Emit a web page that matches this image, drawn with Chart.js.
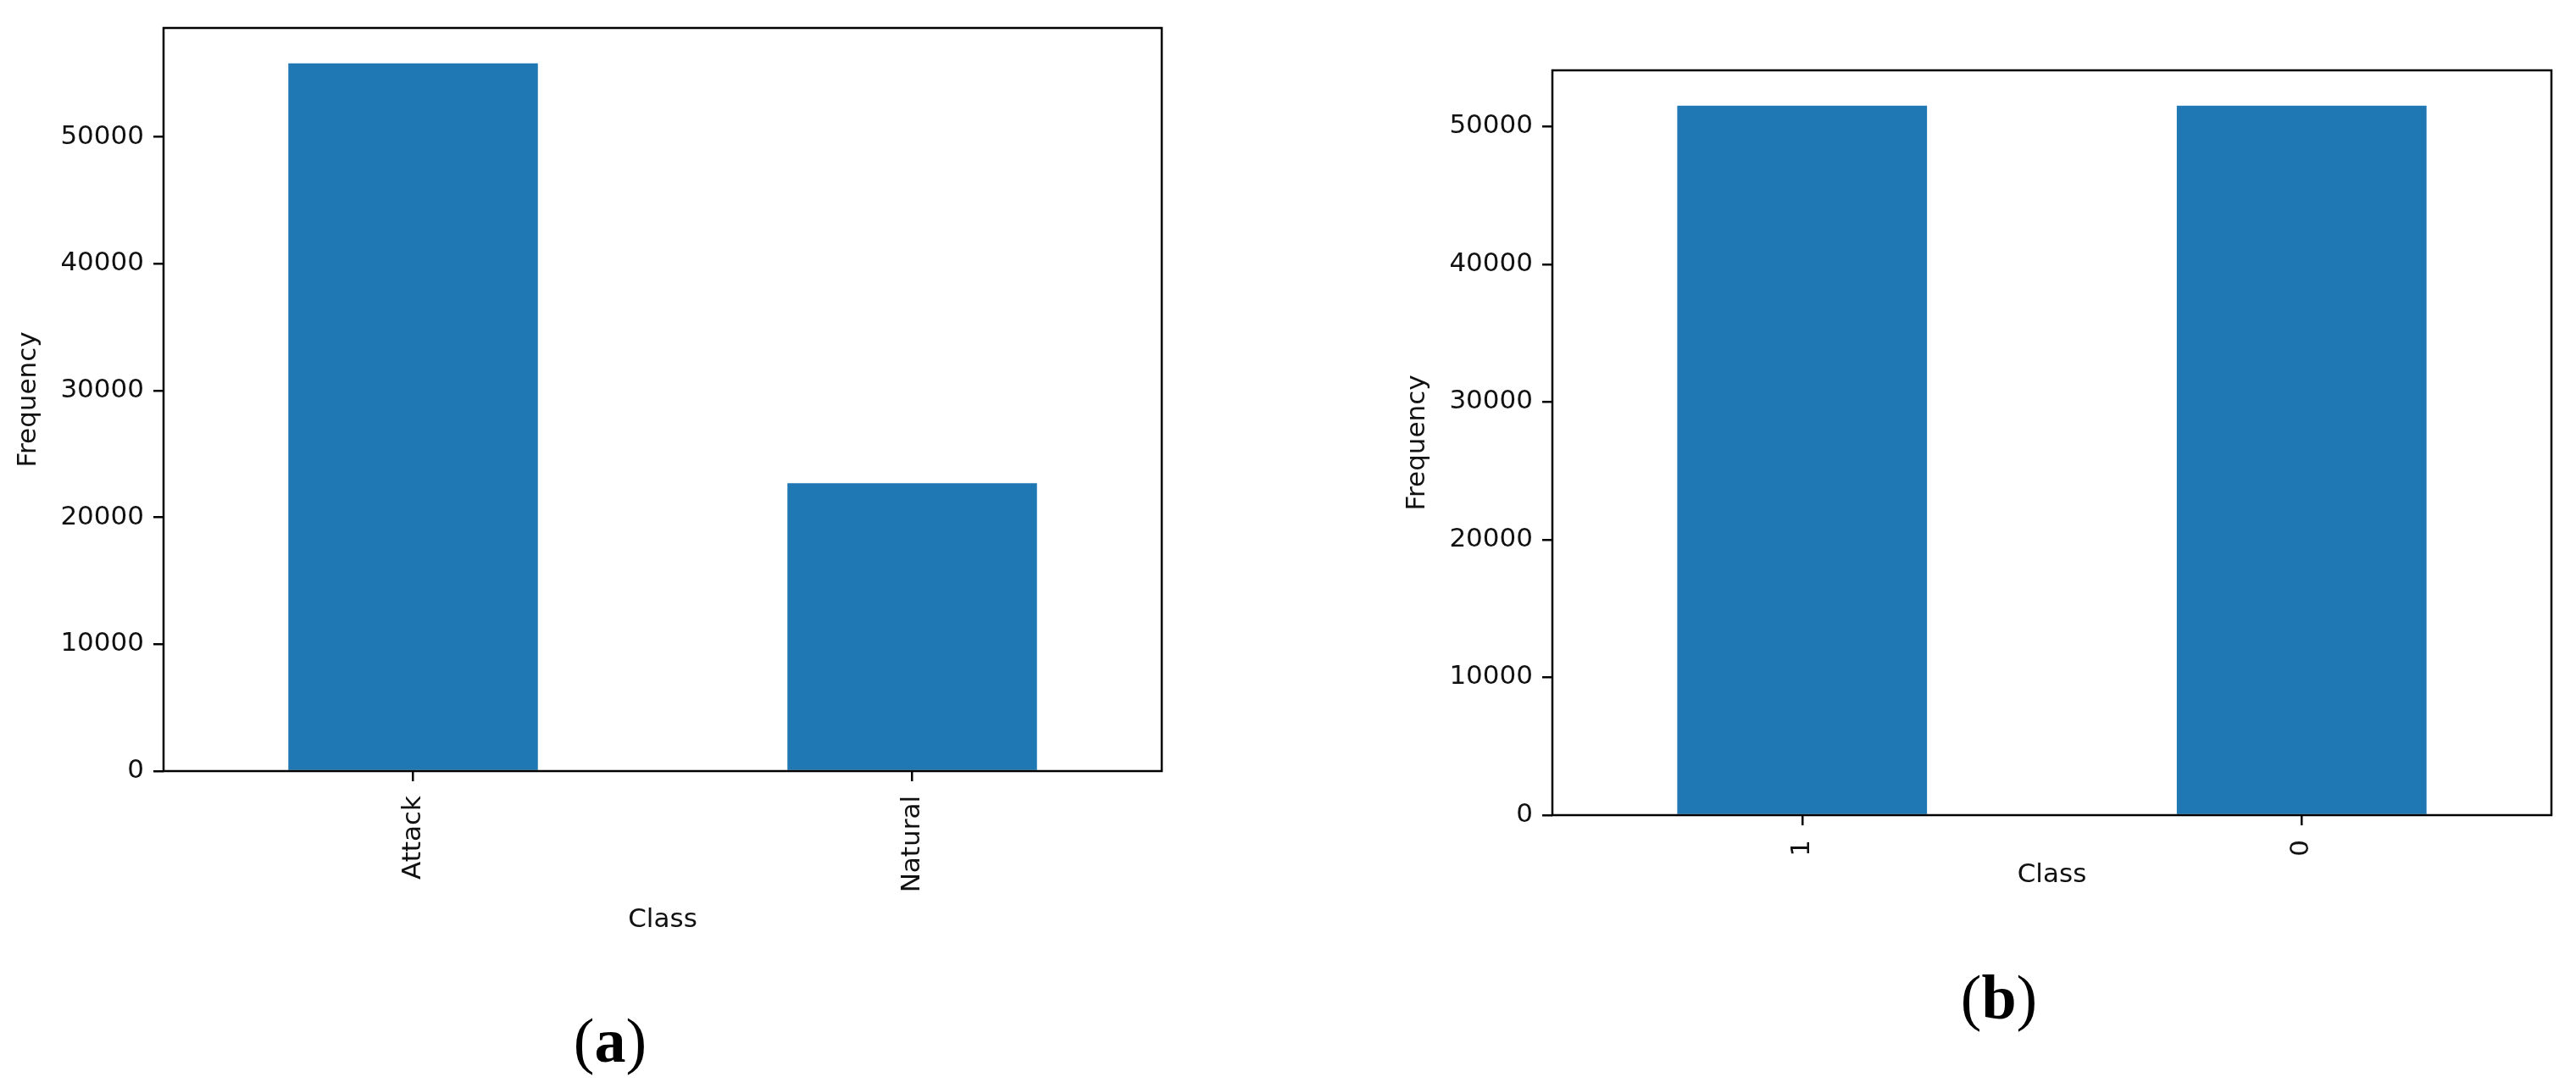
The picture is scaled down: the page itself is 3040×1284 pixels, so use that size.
<!DOCTYPE html>
<html>
<head>
<meta charset="utf-8">
<script src="https://cdn.jsdelivr.net/npm/chart.js@4.4.1/dist/chart.umd.min.js"></script>
<style>
  html, body { margin: 0; padding: 0; background: #fff; }
  body { width: 3040px; height: 1284px; position: relative; overflow: hidden; }
  canvas { position: absolute; top: 0; }
  #chartA { left: 0; }
  #chartB { left: 1639px; }
  .tag { position: absolute; font-family: "Liberation Serif", serif; font-size: 74px; color: #000;
         transform: translate(-50%, -50%); line-height: 1; white-space: nowrap; }
</style>
</head>
<body>
<canvas id="chartA" width="1400" height="1150"></canvas>
<canvas id="chartB" width="1401" height="1150"></canvas>
<div class="tag" style="left:720px; top:1228px;">(<b>a</b>)</div>
<div class="tag" style="left:2359px; top:1177px;">(<b>b</b>)</div>
<script>
// panel (a): original data
const classesA = ['Attack', 'Natural'];
const countsA = [55800, 22700];

// panel (b): balanced data
const classesB = ['1', '0'];
const countsB = [51500, 51500];

// y tick values shared by both panels
const yTicks = [0, 10000, 20000, 30000, 40000, 50000];

const barColor = '#1f77b4';
const textColor = '#111';
const font = { family: 'DejaVu Sans', size: 31, lineHeight: 1.2 };

// box around the plot area, like matplotlib spines
const framePlugin = {
  id: 'frame',
  afterDraw(chart) {
    const { ctx, chartArea: a } = chart;
    ctx.save();
    ctx.strokeStyle = '#000';
    ctx.lineWidth = 2.5;
    ctx.strokeRect(a.left, a.top, a.right - a.left, a.bottom - a.top);
    ctx.restore();
  }
};

function makeChart(id, labels, values, top, bottom, titleGap) {
  const canvas = document.getElementById(id);
  return new Chart(canvas.getContext('2d'), {
    type: 'bar',
    data: {
      labels: labels,
      datasets: [{
        data: values,
        backgroundColor: barColor,
        borderWidth: 0,
        categoryPercentage: 1,
        barPercentage: 0.5
      }]
    },
    options: {
      responsive: false,
      devicePixelRatio: 1,
      animation: false,
      layout: { padding: { top: top, right: 29, left: 0, bottom: 0 } },
      plugins: { legend: { display: false }, tooltip: { enabled: false } },
      scales: {
        x: {
          offset: true,
          grid: { display: true, offset: false, drawOnChartArea: false, drawTicks: true,
                  tickLength: 12, color: '#000', lineWidth: 2.5 },
          border: { display: false },
          ticks: { color: textColor, font: font, minRotation: 90, maxRotation: 90, padding: 17 },
          title: { display: true, text: 'Class', color: textColor, font: font,
                   padding: { top: 0, bottom: titleGap } },
          afterFit(scale) { scale.height = canvas.height - bottom; }
        },
        y: {
          min: 0,
          max: Math.max(...values) * 1.05,
          grid: { display: true, drawOnChartArea: false, drawTicks: true,
                  tickLength: 12, color: '#000', lineWidth: 2.5 },
          border: { display: false },
          ticks: { color: textColor, font: font, padding: 11, callback: v => String(v) },
          afterBuildTicks(scale) {
            scale.ticks = yTicks.filter(v => v <= scale.max).map(v => ({ value: v }));
          },
          title: { display: true, text: 'Frequency', color: textColor, font: font,
                   padding: { top: 15, bottom: 0 } },
          afterFit(scale) { scale.width = 193; }
        }
      }
    },
    plugins: [framePlugin]
  });
}

makeChart('chartA', classesA, countsA, 33, 910, 45);
makeChart('chartB', classesB, countsB, 83, 962, 98);
</script>
</body>
</html>
